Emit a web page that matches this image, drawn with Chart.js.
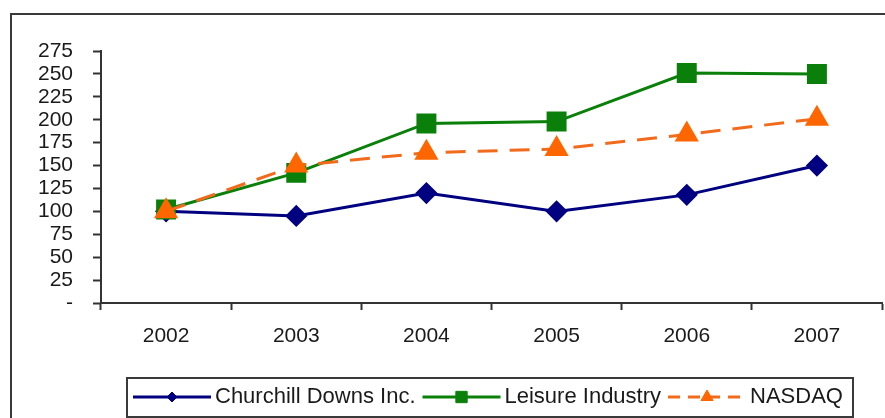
<!DOCTYPE html>
<html lang="en">
<head>
    <meta charset="UTF-8">
    <title>Cumulative Total Return</title>
    <script src="https://cdn.jsdelivr.net/npm/chart.js"></script>
    <style>
        body {
            margin: 0;
            background-color: #ffffff;
        }
        #wrap {
            width: 885px;
            height: 418px;
        }
    </style>
</head>
<body>
    <div id="wrap"><canvas id="returnChart" width="885" height="418"></canvas></div>

    <script>
        // values
        const years = ['2002', '2003', '2004', '2005', '2006', '2007'];
        const churchillDowns = [100, 95, 120, 100, 118, 150];
        const leisureIndustry = [102, 142, 196, 198, 251, 250];
        const nasdaq = [100, 150, 164, 168, 184, 201];
        const seriesNames = ['Churchill Downs Inc.', 'Leisure Industry', 'NASDAQ'];

        const FONT = '"Liberation Sans", Arial, sans-serif';
        const legendMarkerSize = [5, 8, 7];

        // outer frame plus the boxed legend with line samples
        const framePlugin = {
            id: 'frameAndLegend',
            beforeDraw(chart) {
                const ctx = chart.ctx;
                ctx.save();
                ctx.fillStyle = '#ffffff';
                ctx.fillRect(0, 0, chart.width, chart.height);
                ctx.restore();
            },
            afterDraw(chart) {
                const ctx = chart.ctx;
                ctx.save();
                ctx.strokeStyle = '#3a3a3a';
                ctx.lineWidth = 2;
                ctx.strokeRect(11, 14, chart.width + 10, chart.height + 10);

                // legend box
                ctx.strokeRect(127, 378, 726, 39);

                ctx.font = '22px ' + FONT;
                ctx.textBaseline = 'middle';
                let x = 133;
                const y = 397;
                chart.data.datasets.forEach((ds, i) => {
                    ctx.strokeStyle = ds.borderColor;
                    ctx.lineWidth = 3;
                    ctx.setLineDash(ds.borderDash ? [12, 8] : []);
                    ctx.beginPath();
                    ctx.moveTo(x, y);
                    ctx.lineTo(x + 78, y);
                    ctx.stroke();
                    ctx.setLineDash([]);
                    ctx.fillStyle = ds.pointBackgroundColor;
                    ctx.strokeStyle = ds.pointBorderColor;
                    ctx.lineWidth = 1;
                    Chart.helpers.drawPoint(ctx, {
                        pointStyle: ds.pointStyle,
                        radius: legendMarkerSize[i],
                        rotation: 0,
                        borderWidth: 1
                    }, x + 39, y);
                    ctx.fillStyle = '#1a1a1a';
                    const tx = x + 82;
                    ctx.fillText(ds.label, tx, y);
                    x = tx + ctx.measureText(ds.label).width + 7;
                });
                ctx.restore();
            }
        };

        const axisColor = '#333333';

        new Chart(document.getElementById('returnChart').getContext('2d'), {
            type: 'line',
            data: {
                labels: years,
                datasets: [
                    {
                        label: seriesNames[0],
                        data: churchillDowns,
                        borderColor: '#000080',
                        borderWidth: 3,
                        pointStyle: 'rectRot',
                        pointRadius: 9,
                        pointBackgroundColor: '#000080',
                        pointBorderColor: '#000080',
                        tension: 0,
                        order: 2
                    },
                    {
                        label: seriesNames[1],
                        data: leisureIndustry,
                        borderColor: '#0a800a',
                        borderWidth: 3,
                        pointStyle: 'rect',
                        pointRadius: 12,
                        pointBackgroundColor: '#0a800a',
                        pointBorderColor: '#0a800a',
                        tension: 0,
                        order: 1
                    },
                    {
                        label: seriesNames[2],
                        data: nasdaq,
                        borderColor: '#f26b1d',
                        borderWidth: 3,
                        borderDash: [20, 12],
                        pointStyle: 'triangle',
                        pointRadius: 11,
                        pointBackgroundColor: '#ff6600',
                        pointBorderColor: '#ff6600',
                        tension: 0,
                        order: 0
                    }
                ]
            },
            options: {
                responsive: false,
                animation: false,
                layout: {
                    autoPadding: false,
                    padding: { left: 10, right: 3, top: 51, bottom: 0 }
                },
                plugins: {
                    legend: { display: false },
                    tooltip: { enabled: false }
                },
                scales: {
                    x: {
                        offset: true,
                        afterFit: s => {
                            s.height = 115;
                            s.paddingLeft = 0;
                            s.paddingRight = 0;
                        },
                        grid: {
                            offset: true,
                            drawOnChartArea: false,
                            drawTicks: true,
                            tickLength: 7,
                            tickWidth: 2,
                            color: axisColor
                        },
                        border: { display: true, color: axisColor, width: 2 },
                        ticks: {
                            color: '#1a1a1a',
                            padding: 14,
                            maxRotation: 0,
                            font: { family: FONT, size: 21 }
                        }
                    },
                    y: {
                        min: 0,
                        max: 275,
                        afterFit: s => { s.width = 91; },
                        grid: {
                            drawOnChartArea: false,
                            drawTicks: true,
                            tickLength: 8,
                            tickWidth: 2,
                            color: axisColor
                        },
                        border: { display: true, color: axisColor, width: 2 },
                        ticks: {
                            stepSize: 25,
                            autoSkip: false,
                            color: '#1a1a1a',
                            padding: 20,
                            font: { family: FONT, size: 21 },
                            callback: v => (v === 0 ? '-' : v)
                        }
                    }
                }
            },
            plugins: [framePlugin]
        });
    </script>
</body>
</html>
